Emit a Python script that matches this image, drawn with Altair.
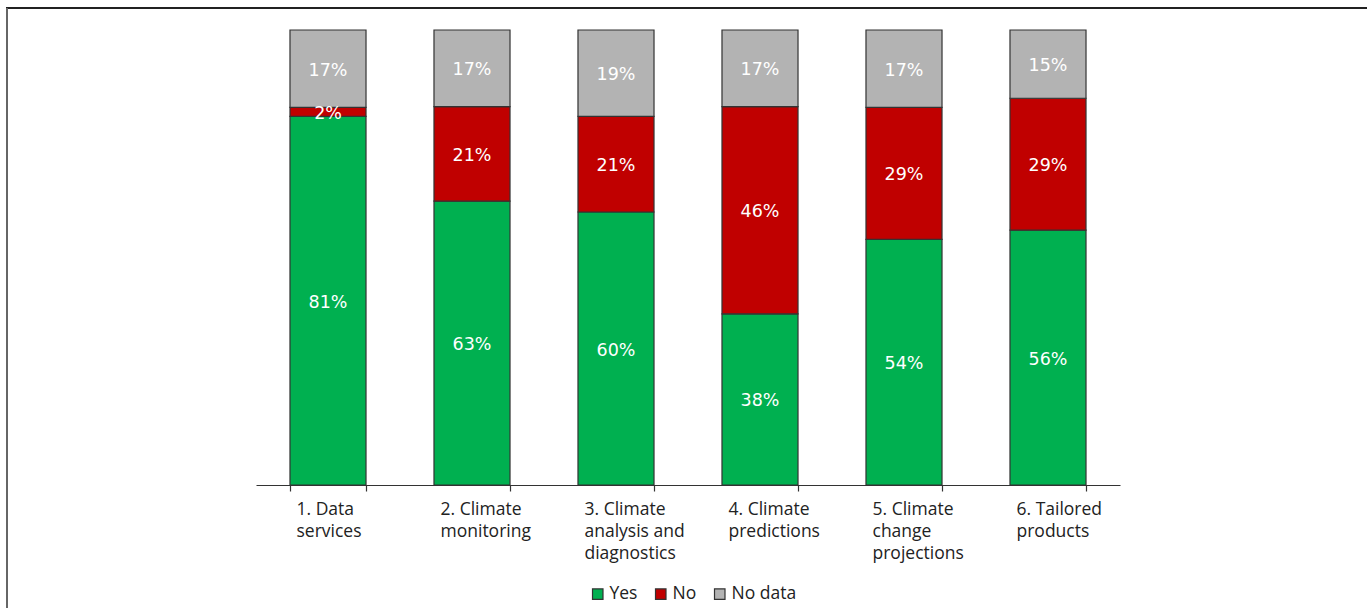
import altair as alt
import pandas as pd

# Survey results per climate service category (percent of respondents)
categories = [
    "1. Data\nservices",
    "2. Climate\nmonitoring",
    "3. Climate\nanalysis and\ndiagnostics",
    "4. Climate\npredictions",
    "5. Climate\nchange\nprojections",
    "6. Tailored\nproducts",
]
yes_pct = [81, 63, 60, 38, 54, 56]
no_pct = [2, 21, 21, 46, 29, 29]
nodata_pct = [17, 17, 19, 17, 17, 15]

statuses = ["Yes", "No", "No data"]
colors = ["#00B050", "#C00000", "#B3B3B3"]

rows = []
for i, cat in enumerate(categories):
    for status, vals in zip(statuses, [yes_pct, no_pct, nodata_pct]):
        rows.append({"cat": cat, "status": status, "value": vals[i]})
df = pd.DataFrame(rows)

LABEL_FONT = "Open Sans"
VALUE_FONT = "DejaVu Sans"

base = (
    alt.Chart(df)
    .transform_calculate(order="indexof(['Yes', 'No', 'No data'], datum.status)")
    .transform_joinaggregate(total="sum(value)", groupby=["cat"])
    .transform_calculate(frac="datum.value / datum.total")
    .transform_stack(
        stack="frac",
        as_=["y0", "y1"],
        groupby=["cat"],
        sort=[alt.SortField("order", order="ascending")],
    )
    .transform_calculate(mid="(datum.y0 + datum.y1) / 2", label="datum.value + '%'")
)

x_enc = alt.X(
    "cat:N",
    sort=categories,
    title=None,
    scale=alt.Scale(paddingInner=0.472, paddingOuter=0.236),
    axis=alt.Axis(
        labelExpr="split(datum.label, '\\n')",
        labelAngle=0,
        labelAlign="left",
        labelBaseline="top",
        labelOffset=-32,
        labelPadding=9,
        labelLineHeight=22,
        labelFont=LABEL_FONT,
        labelFontSize=17.5,
        labelColor="#222222",
        domainColor="#333333",
        domainWidth=1.2,
        tickColor="#333333",
        tickWidth=1.2,
        tickSize=6,
        tickBand="extent",
        grid=False,
    ),
)

bars = base.mark_bar(stroke="#333333", strokeWidth=1.2).encode(
    x=x_enc,
    y=alt.Y("y0:Q", scale=alt.Scale(domain=[0, 1]), axis=None),
    y2="y1:Q",
    color=alt.Color(
        "status:N",
        scale=alt.Scale(domain=statuses, range=colors),
        legend=alt.Legend(
            title=None,
            orient="none",
            legendX=333,
            legendY=555,
            direction="horizontal",
            symbolType="square",
            symbolSize=110,
            symbolStrokeColor="#333333",
            symbolStrokeWidth=1.2,
            labelFont=LABEL_FONT,
            labelFontSize=17.5,
            labelColor="#222222",
            labelOffset=3,
            columnPadding=14,
        ),
    ),
)

labels = base.mark_text(
    color="white", font=VALUE_FONT, fontSize=17.5, baseline="middle", dy=2
).encode(
    x=alt.X("cat:N", sort=categories),
    y=alt.Y("mid:Q", scale=alt.Scale(domain=[0, 1])),
    text="label:N",
)

# Outer frame lines along the top and left edge
frame_top = alt.Chart(df).mark_rule(color="#222222", strokeWidth=1.5).encode(
    x=alt.value(-250), x2=alt.value(1200), y=alt.value(-22)
)
frame_left = alt.Chart(df).mark_rule(color="#666666", strokeWidth=2).encode(
    x=alt.value(-249), y=alt.value(-22), y2=alt.value(700)
)

chart = (
    alt.layer(frame_top, frame_left, bars, labels)
    .properties(
        width=864,
        height=455,
        padding={"left": 256, "top": 30, "right": 247, "bottom": 123},
        autosize=alt.AutoSizeParams(type="none"),
        background="white",
    )
    .configure_view(stroke=None)
)

chart.save("out.html", embed_options={"renderer": "svg", "actions": False})
